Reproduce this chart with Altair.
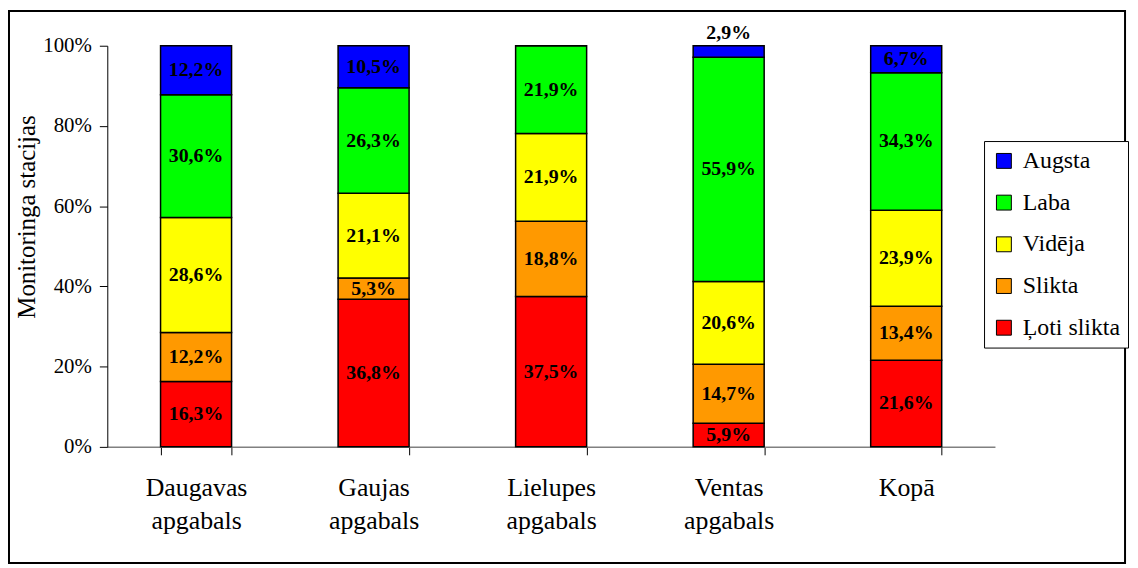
import altair as alt
import pandas as pd

categories = ["Daugavas apgabals", "Gaujas apgabals", "Lielupes apgabals", "Ventas apgabals", "Kopā"]
series = ["Ļoti slikta", "Slikta", "Vidēja", "Laba", "Augsta"]
loti_slikta = [16.3, 36.8, 37.5, 5.9, 21.6]
slikta = [12.2, 5.3, 18.8, 14.7, 13.4]
videja = [28.6, 21.1, 21.9, 20.6, 23.9]
laba = [30.6, 26.3, 21.9, 55.9, 34.3]
augsta = [12.2, 10.5, 0.0, 2.9, 6.7]

legend_order = ["Augsta", "Laba", "Vidēja", "Slikta", "Ļoti slikta"]
legend_colors = ["#0000FF", "#00FF00", "#FFFF00", "#FF9900", "#FF0000"]

rows = []
for si, (name, vals) in enumerate(zip(series, [loti_slikta, slikta, videja, laba, augsta])):
    for ci, cat in enumerate(categories):
        rows.append({"cat": cat, "series": name, "order": si, "value": vals[ci]})
df = pd.DataFrame(rows)

FONT = "Liberation Serif"

base = alt.Chart(df).transform_stack(
    stack="value", groupby=["cat"], as_=["y0", "y1"], offset="normalize",
    sort=[alt.SortField("order", order="ascending")]
).transform_calculate(
    mid="(datum.y0 + datum.y1) / 2",
    label="replace(format(datum.value, '.1f'), '.', ',') + '%'"
)

xenc = alt.X("cat:N", sort=categories, title=None,
             scale=alt.Scale(paddingInner=0.6, paddingOuter=0.3),
             axis=alt.Axis(labelAngle=0, labelExpr="split(datum.label, ' ')",
                           labelFont=FONT, labelFontSize=26, labelColor="black",
                           labelLineHeight=33, labelPadding=20, labelBaseline="top",
                           tickBand="extent", tickSize=8, tickColor="black",
                           domainColor="#808080", domainWidth=1.5, grid=False))

bars = base.mark_bar(stroke="black", strokeWidth=1.5).encode(
    x=xenc,
    y=alt.Y("y0:Q", scale=alt.Scale(domain=[0, 1]), title="Monitoringa stacijas",
            axis=alt.Axis(format="%", values=[0, 0.2, 0.4, 0.6, 0.8, 1.0],
                          labelFont=FONT, labelFontSize=21, labelColor="black",
                          labelPadding=8, tickSize=8, tickColor="black",
                          domainColor="black", grid=False,
                          titleFont=FONT, titleFontSize=25, titleFontWeight="normal",
                          titleColor="black", titleX=-68, titleY=172)),
    y2="y1:Q",
    color=alt.Color("series:N", scale=alt.Scale(domain=legend_order, range=legend_colors),
                    legend=alt.Legend(title=None, orient="none", legendX=883, legendY=96,
                                      strokeColor="black", padding=8, fillColor="white",
                                      labelFont=FONT, labelFontSize=24, labelColor="black",
                                      symbolType="square", symbolSize=225,
                                      symbolStrokeColor="black", symbolStrokeWidth=1,
                                      rowPadding=18, labelOffset=7)),
)

texts_in = base.transform_filter("datum.value >= 4").mark_text(
    font=FONT, fontSize=20, fontWeight="bold", color="black", baseline="middle"
).encode(x=alt.X("cat:N", sort=categories), y="mid:Q", text="label:N")

texts_top = base.transform_filter("datum.value > 0 && datum.value < 4").mark_text(
    font=FONT, fontSize=20, fontWeight="bold", color="black", baseline="bottom", dy=-3
).encode(x=alt.X("cat:N", sort=categories), y="y1:Q", text="label:N")

frame = alt.Chart(pd.DataFrame({"a": [0]})).mark_rect(
    fill="transparent", stroke="black", strokeWidth=2
).encode(x=alt.value(-99), x2=alt.value(1025), y=alt.value(-35), y2=alt.value(521))

chart = alt.layer(frame, bars, texts_in, texts_top).properties(
    width=894, height=404,
    autosize=alt.AutoSizeParams(type="none"),
    padding={"left": 100, "top": 36, "right": 136, "bottom": 120},
    background="white",
).configure_view(stroke="transparent")

chart.save("out.html", embed_options={"renderer": "svg", "actions": False})
